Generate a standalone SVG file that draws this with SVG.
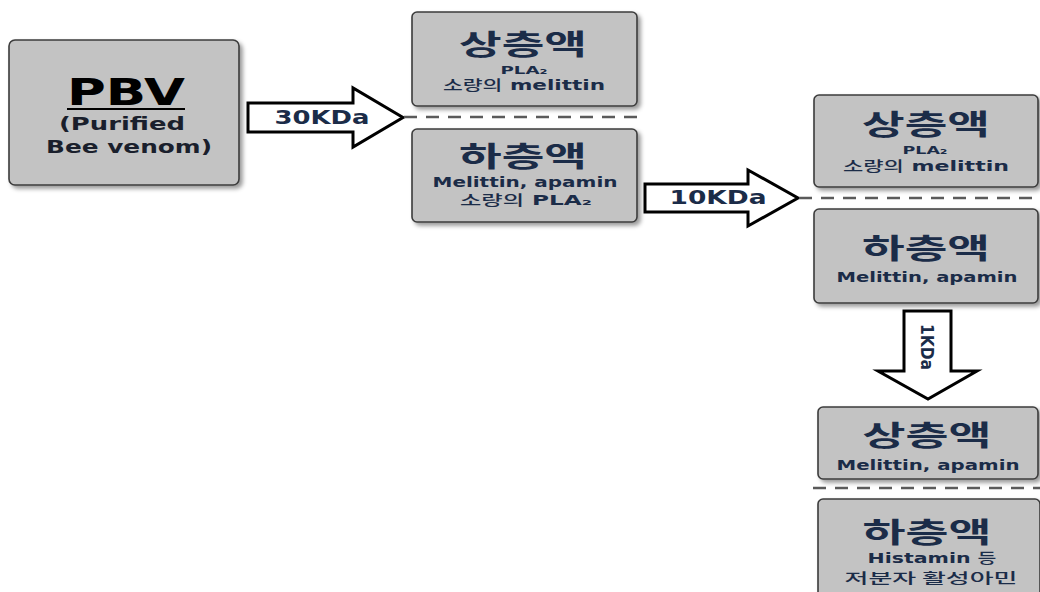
<svg xmlns="http://www.w3.org/2000/svg" width="1040" height="592" viewBox="0 0 1040 592">
<style>
.box{fill:#c3c3c3;stroke:#3c3c3c;stroke-width:1.6;filter:url(#sh)}
.arrow{fill:#fff;stroke:#000;stroke-width:3;stroke-linejoin:miter}
.dash{stroke:#5a5a5a;stroke-width:2.4;stroke-dasharray:13 9;fill:none}
.t{font-family:"Noto Sans CJK KR","DejaVu Sans",sans-serif;font-weight:bold;fill:#1b2c48;text-anchor:middle}
.l{font-family:"DejaVu Sans","Noto Sans CJK KR",sans-serif;font-weight:bold;fill:#1b2c48;text-anchor:middle}
.k{font-family:"Noto Sans CJK KR",sans-serif;font-weight:500}
.title{font-size:28px}
.s11{font-size:11px}
.s13{font-size:13.5px}
</style>
<defs>
<filter id="sh" x="-10%" y="-10%" width="130%" height="130%">
<feDropShadow dx="3" dy="3" stdDeviation="2" flood-color="#000" flood-opacity="0.4"/>
</filter>
</defs>
<rect width="1040" height="592" fill="#fff"/>
<g id="connectors">
<polygon class="arrow" points="248,103 353,103 353,88 403,117.5 353,147 353,132 248,132"/>
<text class="l" x="322" y="124" font-size="19" textLength="95" lengthAdjust="spacingAndGlyphs">30KDa</text>
<line class="dash" x1="404" y1="117" x2="637" y2="117"/>
<polygon class="arrow" points="645,184 748,184 748,170 798,198 748,226 748,212 645,212"/>
<text class="l" x="718" y="204" font-size="19" textLength="97" lengthAdjust="spacingAndGlyphs">10KDa</text>
<line class="dash" x1="799" y1="198" x2="1040" y2="198"/>
<polygon class="arrow" points="904,311 951,311 951,371 977,371 928,399 878,371 904,371"/>
<text class="l" transform="translate(921,347) rotate(90)" x="0" y="0" font-size="18" textLength="46" lengthAdjust="spacingAndGlyphs">1KDa</text>
<line class="dash" x1="813" y1="488" x2="1040" y2="488"/>
</g>
<g id="pbv">
<rect class="box" x="9" y="40" width="230" height="145" rx="6"/>
<text x="126" y="105" font-family="DejaVu Sans,sans-serif" font-weight="bold" font-size="37" fill="#000" text-anchor="middle" textLength="118" lengthAdjust="spacingAndGlyphs">PBV</text>
<line x1="67" y1="109" x2="185" y2="109" stroke="#000" stroke-width="2.2"/>
<text class="l" x="122" y="130" font-size="18" textLength="126" lengthAdjust="spacingAndGlyphs" style="fill:#1a1f2c">(Purified</text>
<text class="l" x="129" y="153" font-size="18" textLength="166" lengthAdjust="spacingAndGlyphs" style="fill:#1a1f2c">Bee venom)</text>
</g>
<g id="mid-upper">
<rect class="box" x="412" y="12" width="225" height="94" rx="5"/>
<text class="t title" x="523" y="55" textLength="128" lengthAdjust="spacingAndGlyphs">상층액</text>
<text class="l s11" x="524" y="74" textLength="47" lengthAdjust="spacingAndGlyphs">PLA₂</text>
<text class="l s13" x="524" y="90" textLength="162" lengthAdjust="spacingAndGlyphs"><tspan class="k">소량의</tspan> melittin</text>
</g>
<g id="mid-lower">
<rect class="box" x="412" y="129" width="225" height="93" rx="5"/>
<text class="t title" x="523" y="167" textLength="128" lengthAdjust="spacingAndGlyphs">하층액</text>
<text class="l s13" x="525" y="187" textLength="185" lengthAdjust="spacingAndGlyphs">Melittin, apamin</text>
<text class="l s13" x="526" y="205" textLength="132" lengthAdjust="spacingAndGlyphs"><tspan class="k">소량의</tspan> PLA₂</text>
</g>
<g id="right-upper">
<rect class="box" x="814" y="95" width="224" height="92" rx="5"/>
<text class="t title" x="926" y="135" textLength="128" lengthAdjust="spacingAndGlyphs">상층액</text>
<text class="l s11" x="925" y="154" textLength="45" lengthAdjust="spacingAndGlyphs">PLA₂</text>
<text class="l s13" x="926" y="171" textLength="166" lengthAdjust="spacingAndGlyphs"><tspan class="k">소량의</tspan> melittin</text>
</g>
<g id="right-lower">
<rect class="box" x="814" y="209" width="224" height="94" rx="5"/>
<text class="t title" x="926" y="259" textLength="128" lengthAdjust="spacingAndGlyphs">하층액</text>
<text class="l s13" x="927" y="282" textLength="181" lengthAdjust="spacingAndGlyphs">Melittin, apamin</text>
</g>
<g id="bottom-upper">
<rect class="box" x="818" y="407" width="220" height="72" rx="5"/>
<text class="t title" x="927" y="446" textLength="129" lengthAdjust="spacingAndGlyphs">상층액</text>
<text class="l s13" x="928" y="470" textLength="183" lengthAdjust="spacingAndGlyphs">Melittin, apamin</text>
</g>
<g id="bottom-lower">
<rect class="box" x="818" y="499" width="222" height="100" rx="5"/>
<text class="t title" x="927" y="543" textLength="129" lengthAdjust="spacingAndGlyphs">하층액</text>
<text class="l s13" x="932" y="563" textLength="129" lengthAdjust="spacingAndGlyphs">Histamin <tspan class="k">등</tspan></text>
<text class="t s13" x="931" y="583" textLength="173" lengthAdjust="spacingAndGlyphs" style="font-weight:500">저분자 활성아민</text>
</g>
</svg>
